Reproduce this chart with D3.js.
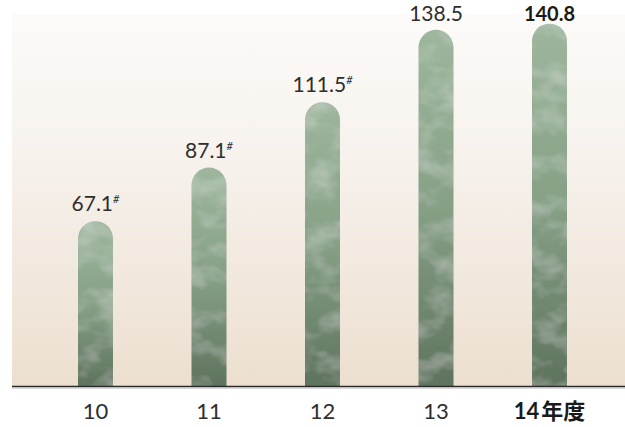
<!DOCTYPE html>
<html>
<head>
<meta charset="utf-8">
<script src="https://cdn.jsdelivr.net/npm/d3@7"></script>
<style>
  html, body { margin: 0; padding: 0; background: #ffffff; }
  svg { display: block; }
</style>
</head>
<body>
<svg id="chart" width="625" height="427"></svg>
<script>
// Fiscal years and totals
const years = ["10", "11", "12", "13", "14"];
const values = [67.1, 87.1, 111.5, 138.5, 140.8];
const valueText = ["67.1", "87.1", "111.5", "138.5", "140.8"];
const marks = ["#", "#", "#", "", ""];
const yearSuffix = ["", "", "", "", "年度"];
const highlight = [false, false, false, false, true];

const W = 625, H = 427;
const plot = { left: 12, top: 14, right: 625, bottom: 386 };
const barWidth = 35;

const svg = d3.select("#chart");
const defs = svg.append("defs");

// Warm backdrop fading from near-white to beige
const bg = defs.append("linearGradient").attr("id", "bgGrad")
  .attr("x1", 0).attr("y1", 0).attr("x2", 0).attr("y2", 1);
bg.append("stop").attr("offset", "0%").attr("stop-color", "#fcfbf9");
bg.append("stop").attr("offset", "45%").attr("stop-color", "#f6f0ea");
bg.append("stop").attr("offset", "100%").attr("stop-color", "#ecdfcf");

// Green bar shading, lighter at the cap
const bar = defs.append("linearGradient").attr("id", "barGrad")
  .attr("x1", 0).attr("y1", 0).attr("x2", 0).attr("y2", 1);
bar.append("stop").attr("offset", "0%").attr("stop-color", "#9db69d");
bar.append("stop").attr("offset", "50%").attr("stop-color", "#86a086");
bar.append("stop").attr("offset", "100%").attr("stop-color", "#5e735d");

// Faint marble-like veining on the bars
const marble = defs.append("filter").attr("id", "marble")
  .attr("x", 0).attr("y", 0).attr("width", 1).attr("height", 1);
marble.append("feTurbulence").attr("type", "fractalNoise")
  .attr("baseFrequency", "0.03 0.045").attr("numOctaves", 3).attr("seed", 7).attr("result", "noise");
marble.append("feColorMatrix").attr("in", "noise").attr("type", "matrix")
  .attr("values", "0 0 0 0 1  0 0 0 0 1  0 0 0 0 1  0.55 0 0 0 -0.24").attr("result", "veins");
marble.append("feComposite").attr("in", "veins").attr("in2", "SourceGraphic")
  .attr("operator", "in").attr("result", "veinsClip");
const merge = marble.append("feMerge");
merge.append("feMergeNode").attr("in", "SourceGraphic");
merge.append("feMergeNode").attr("in", "veinsClip");

svg.append("rect")
  .attr("x", plot.left).attr("y", plot.top)
  .attr("width", plot.right - plot.left).attr("height", plot.bottom - plot.top)
  .attr("fill", "url(#bgGrad)");

const x = d3.scalePoint().domain(years).range([95.5, 549.5]);
const y = d3.scaleLinear().domain([5.6, 146]).range([plot.bottom, plot.bottom - 2.68 * (146 - 5.6)]);

const data = years.map((yr, i) => ({
  year: yr, value: values[i], text: valueText[i], mark: marks[i],
  suffix: yearSuffix[i], bold: highlight[i]
}));

// Bar with a fully rounded top, flat at the baseline
function capsule(d) {
  const cx = x(d.year), r = barWidth / 2;
  const top = y(d.value), base = plot.bottom;
  const p = d3.path();
  p.moveTo(cx - r, base);
  p.lineTo(cx - r, top + r);
  p.arc(cx, top + r, r, Math.PI, 0);
  p.lineTo(cx + r, base);
  p.closePath();
  return p.toString();
}

svg.append("g").selectAll("path").data(data).join("path")
  .attr("d", capsule)
  .attr("fill", "url(#barGrad)")
  .attr("filter", "url(#marble)");

// Baseline
svg.append("line")
  .attr("x1", plot.left).attr("x2", plot.right)
  .attr("y1", plot.bottom + 0.5).attr("y2", plot.bottom + 0.5)
  .attr("stroke", "#2a2a2a").attr("stroke-width", 1.6);
svg.append("line")
  .attr("x1", plot.left).attr("x2", plot.right)
  .attr("y1", plot.bottom + 2).attr("y2", plot.bottom + 2)
  .attr("stroke", "#b5b5b5").attr("stroke-width", 1);

const font = "Lato, 'Noto Sans CJK JP', sans-serif";

// Value labels above each bar, kept clear of the top edge
const labels = svg.append("g").selectAll("text").data(data).join("text")
  .attr("x", d => x(d.year))
  .attr("y", d => Math.max(y(d.value) - 10, 20.5))
  .attr("text-anchor", "middle")
  .attr("font-family", font)
  .attr("font-size", d => d.bold ? 20 : 21)
  .attr("font-weight", d => d.bold ? 700 : 400)
  .attr("fill", d => d.bold ? "#1a1a1a" : "#2e2e2e");
labels.append("tspan").text(d => d.text);
labels.filter(d => d.mark).append("tspan")
  .attr("font-size", 11).attr("font-style", "italic").attr("dy", -8)
  .text(d => d.mark);

// Fiscal-year axis labels
const axis = svg.append("g").selectAll("text").data(data).join("text")
  .attr("x", d => x(d.year))
  .attr("y", 419)
  .attr("text-anchor", "middle")
  .attr("font-family", font)
  .attr("font-size", 22)
  .attr("font-weight", d => d.bold ? 700 : 400)
  .attr("fill", d => d.bold ? "#1a1a1a" : "#2e2e2e");
axis.append("tspan").text(d => d.year);
axis.filter(d => d.suffix).append("tspan").attr("dx", 2).text(d => d.suffix);
</script>
</body>
</html>
